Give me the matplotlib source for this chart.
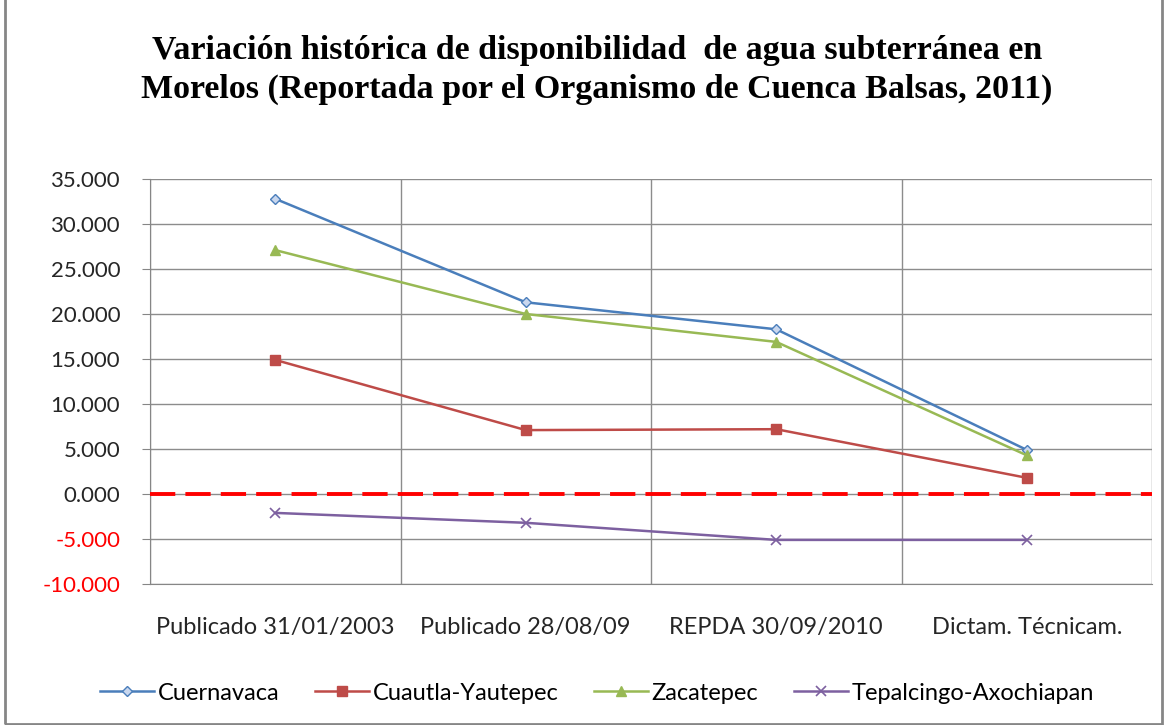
import matplotlib
matplotlib.use("Agg")
import matplotlib.pyplot as plt
from matplotlib.patches import Rectangle
import numpy as np

categories = ["Publicado 31/01/2003", "Publicado 28/08/09", "REPDA 30/09/2010", "Dictam. Técnicam."]
series_names = ["Cuernavaca", "Cuautla-Yautepec", "Zacatepec", "Tepalcingo-Axochiapan"]
cuernavaca = [32.8, 21.3, 18.3, 4.9]
cuautla = [14.9, 7.1, 7.2, 1.8]
zacatepec = [27.1, 20.0, 16.9, 4.3]
tepalcingo = [-2.1, -3.2, -5.1, -5.1]
yticks = [35, 30, 25, 20, 15, 10, 5, 0, -5, -10]
title = "Variación histórica de disponibilidad  de agua subterránea en\nMorelos (Reportada por el Organismo de Cuenca Balsas, 2011)"

colors = ["#4a7ebb", "#be4b48", "#98b954", "#7d60a0"]
markers = ["D", "s", "^", "x"]

fig = plt.figure(figsize=(11.69, 7.25), dpi=100)
ax = fig.add_axes([150/1169, 1-584/725, 1002/1169, (584-179)/725])

x = np.arange(len(categories))
data = [cuernavaca, cuautla, zacatepec, tepalcingo]
for name, vals, c, m in zip(series_names, data, colors, markers):
    kw = dict(color=c, lw=1.8, marker=m, label=name, zorder=3)
    if m == "D":
        kw.update(markersize=5, markerfacecolor="#c9d7ee", markeredgecolor=c, markeredgewidth=1)
    elif m == "s":
        kw.update(markersize=7)
    elif m == "^":
        kw.update(markersize=7)
    else:
        kw.update(markersize=7, markeredgewidth=1.2)
    ax.plot(x, vals, **kw)

ax.axhline(0, color="#ff0000", lw=2.8, dashes=(6.5, 2.6), zorder=4)

ax.set_xlim(-0.5, len(categories) - 0.5)
ax.set_ylim(-10, 35)
ax.set_yticks(yticks)
ax.set_yticklabels([f"{v:.3f}" for v in yticks])
for lbl, v in zip(ax.get_yticklabels(), yticks):
    lbl.set_color("#ff0000" if v < 0 else "#262626")
    lbl.set_fontfamily("Lato")
    lbl.set_fontsize(16)
ax.set_xticks(x)
ax.set_xticklabels(categories, fontfamily="Lato", fontsize=17, color="#262626")
ax.tick_params(axis="x", length=0, pad=24)
ax.tick_params(axis="y", length=6, color="#868686", direction="out", pad=15.5)
ax.set_xticks(np.arange(-0.5, len(categories)), minor=True)
ax.tick_params(axis="x", which="minor", length=0)
ax.grid(True, axis="y", which="major", color="#8c8c8c", lw=1)
ax.grid(True, axis="x", which="minor", color="#8c8c8c", lw=1)
ax.grid(False, axis="x", which="major")
for s in ["top", "right"]:
    ax.spines[s].set_visible(False)
for s in ["left", "bottom"]:
    ax.spines[s].set_color("#868686")
ax.set_axisbelow(True)

fig.text(597/1169, 1-70/725, title, ha="center", va="center", fontsize=24.5,
         fontweight="bold", fontfamily="Liberation Serif", linespacing=1.3)

leg = fig.legend(loc="center", bbox_to_anchor=(597/1169, 1-693/725), ncol=4, frameon=False,
                 prop={"family": "Lato", "size": 17}, handlelength=2.3, columnspacing=1.5,
                 handletextpad=0.15)

fig.patches.append(Rectangle((5/1169, 0.001), 1157/1169, 1.2, transform=fig.transFigure,
                             fill=False, edgecolor="#868686", lw=2))

fig.savefig("out.png", dpi=100)
